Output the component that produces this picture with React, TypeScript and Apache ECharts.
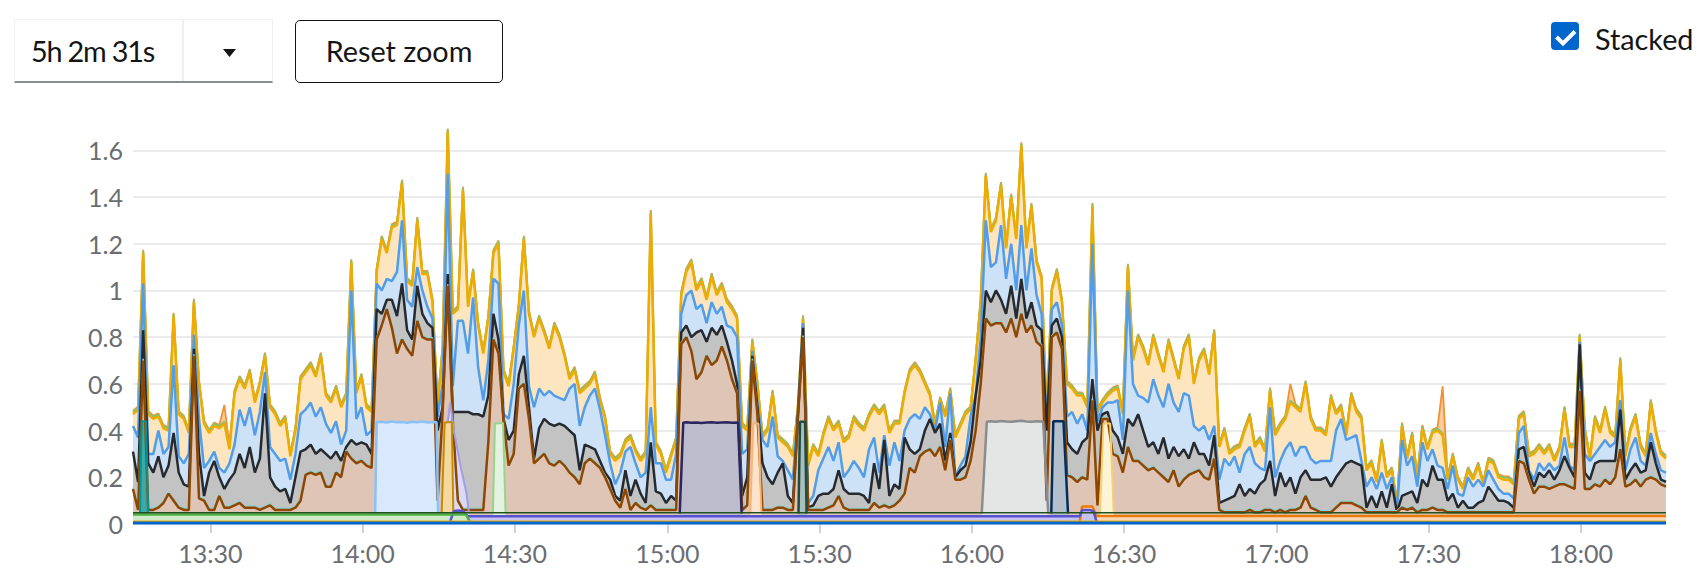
import React, { useEffect, useRef } from 'react';
import * as echarts from 'echarts';

// ---------- data (values in hundredths of a core) ----------
// samples are one minute apart, starting at 13:14:45
const START_MINUTE_OF_DAY = 13 * 60 + 14.75;
const LAST_INDEX = 302;

const tickLabels = ['13:30', '14:00', '14:30', '15:00', '15:30', '16:00', '16:30', '17:00', '17:30', '18:00'];
const rangeLabel = '5h 2m 31s';

// stacked level of the yellow layer (top envelope)
const yellowTop = [
  47, 49, 116, 47, 45, 46, 41, 40, 89, 47,
  45, 39, 95, 60, 43, 39, 42, 41, 43, 32,
  56, 62, 58, 65, 52, 60, 72, 50, 47, 42,
  45, 29, 40, 62, 65, 68, 63, 72, 55, 52,
  58, 50, 55, 112, 56, 63, 50, 48, 108, 122,
  116, 127, 128, 146, 104, 102, 130, 107, 107, 95,
  50, 75, 168, 90, 92, 143, 93, 108, 85, 73,
  88, 116, 120, 65, 59, 75, 93, 122, 90, 80,
  88, 82, 75, 85, 80, 72, 62, 66, 56, 58,
  60, 64, 53, 45, 30, 27, 29, 35, 37, 31,
  27, 30, 133, 34, 30, 22, 29, 36, 98, 108,
  112, 100, 104, 96, 106, 98, 102, 95, 92, 88,
  42, 40, 78, 60, 37, 40, 56, 37, 35, 33,
  29, 50, 88, 25, 33, 29, 38, 45, 40, 43,
  35, 37, 45, 42, 40, 46, 50, 47, 50, 39,
  43, 43, 56, 65, 68, 65, 60, 55, 42, 53,
  46, 57, 37, 42, 47, 49, 70, 95, 149, 125,
  130, 145, 118, 140, 122, 162, 118, 136, 112, 105,
  45, 100, 108, 95, 60, 58, 55, 55, 50, 136,
  48, 52, 55, 57, 58, 47, 110, 70, 80, 75,
  68, 80, 72, 65, 78, 70, 62, 75, 80, 60,
  70, 74, 64, 82, 33, 40, 30, 32, 33, 40,
  46, 33, 36, 31, 57, 38, 42, 45, 52, 50,
  48, 60, 45, 40, 40, 38, 54, 47, 50, 38,
  55, 48, 45, 23, 26, 18, 35, 20, 23, 8,
  42, 28, 38, 19, 41, 32, 39, 40, 38, 19,
  29, 19, 15, 23, 19, 25, 17, 27, 26, 20,
  19, 19, 17, 45, 47, 29, 30, 33, 30, 33,
  27, 32, 49, 33, 33, 80, 40, 28, 45, 39,
  49, 39, 37, 70, 29, 40, 46, 33, 29, 52,
  39, 30, 28,
];

// stacked level of the blue layer
const blueTop = [
  42, 37, 103, 30, 30, 40, 30, 33, 68, 29,
  26, 30, 81, 45, 24, 27, 31, 24, 22, 26,
  34, 49, 42, 50, 38, 48, 65, 33, 30, 27,
  28, 19, 30, 47, 49, 52, 46, 50, 43, 39,
  44, 34, 40, 100, 45, 50, 38, 40, 103, 100,
  105, 104, 108, 130, 96, 93, 110, 100, 93, 88,
  46, 60, 150, 59, 87, 87, 73, 97, 67, 53,
  70, 105, 103, 47, 45, 60, 85, 100, 59, 50,
  58, 55, 57, 55, 54, 53, 58, 60, 42, 50,
  55, 58, 49, 38, 26, 17, 22, 31, 33, 26,
  20, 22, 50, 26, 26, 19, 19, 30, 90, 98,
  100, 92, 94, 86, 95, 90, 93, 85, 84, 80,
  30, 32, 74, 52, 36, 33, 46, 29, 27, 23,
  19, 48, 86, 9, 12, 23, 28, 33, 27, 35,
  20, 23, 27, 24, 20, 32, 37, 22, 38, 25,
  35, 27, 40, 45, 47, 45, 50, 47, 40, 52,
  33, 56, 20, 25, 29, 46, 55, 80, 130, 110,
  112, 128, 105, 120, 100, 128, 100, 118, 98, 90,
  42, 92, 95, 85, 46, 48, 43, 47, 40, 120,
  44, 50, 52, 52, 53, 36, 100, 60, 55, 54,
  52, 62, 55, 50, 60, 52, 48, 56, 55, 42,
  40, 42, 36, 42, 19, 28, 25, 29, 22, 30,
  33, 26, 24, 23, 50, 20, 27, 32, 35, 29,
  33, 33, 28, 26, 27, 27, 27, 40, 45, 36,
  37, 38, 27, 16, 20, 15, 22, 15, 20, 6,
  36, 25, 29, 16, 35, 27, 32, 25, 24, 15,
  25, 13, 12, 20, 16, 19, 16, 23, 19, 15,
  13, 13, 11, 39, 42, 23, 19, 26, 23, 26,
  23, 25, 37, 25, 23, 78, 30, 27, 30, 33,
  36, 33, 35, 53, 23, 32, 37, 27, 25, 39,
  30, 23, 22,
];

// stacked level of the gray layer (dark line)
const grayTop = [
  31, 18, 83, 26, 22, 29, 20, 25, 39, 22,
  17, 16, 75, 30, 12, 22, 27, 20, 15, 19,
  22, 30, 24, 33, 22, 28, 56, 20, 16, 14,
  15, 9, 20, 31, 32, 34, 30, 32, 30, 28,
  31, 27, 33, 36, 34, 35, 34, 30, 92, 90,
  96, 96, 89, 103, 83, 79, 102, 90, 86, 84,
  40, 50, 107, 48, 48, 48, 48, 47, 47, 46,
  55, 90, 79, 45, 36, 40, 64, 72, 50, 28,
  41, 45, 43, 42, 43, 42, 40, 38, 23, 34,
  33, 32, 27, 22, 19, 12, 10, 23, 12, 19,
  13, 9, 35, 14, 13, 9, 12, 10, 82, 85,
  80, 82, 83, 78, 84, 81, 85, 78, 70, 60,
  12, 20, 72, 50, 26, 20, 17, 22, 26, 12,
  9, 47, 84, 7, 8, 12, 13, 13, 15, 23,
  15, 13, 13, 13, 12, 9, 26, 15, 36, 12,
  17, 15, 37, 32, 30, 32, 40, 45, 39, 43,
  27, 39, 20, 23, 25, 35, 55, 70, 100, 95,
  100, 96, 90, 102, 88, 105, 88, 95, 85, 83,
  40, 85, 88, 80, 35, 32, 30, 35, 37, 62,
  40, 47, 48, 40, 37, 30, 45, 42, 47, 40,
  33, 35, 30, 37, 28, 33, 29, 32, 28, 35,
  30, 30, 25, 38, 9, 10, 11, 12, 17, 12,
  15, 13, 17, 19, 27, 12, 22, 16, 20, 13,
  20, 23, 19, 19, 19, 20, 16, 20, 23, 26,
  27, 26, 25, 7, 12, 7, 14, 7, 17, 5,
  12, 13, 14, 9, 19, 16, 25, 19, 19, 10,
  13, 7, 10, 7, 7, 9, 10, 16, 13, 10,
  10, 9, 7, 32, 33, 22, 16, 22, 20, 23,
  19, 23, 29, 24, 20, 77, 22, 19, 26, 27,
  27, 27, 27, 49, 19, 23, 26, 22, 23, 35,
  26, 19, 18,
];

// stacked level of the brown layer
const brownTop = [
  15, 6, 70, 6, 6, 7, 9, 13, 10, 7,
  6, 6, 72, 11, 10, 6, 6, 12, 7, 7,
  8, 9, 7, 7, 7, 6, 7, 8, 6, 6,
  6, 6, 7, 10, 21, 22, 21, 22, 16, 16,
  22, 20, 31, 28, 26, 27, 25, 24, 79, 85,
  92, 84, 73, 79, 75, 72, 87, 80, 79, 79,
  10, 48, 102, 44, 10, 6, 6, 6, 6, 6,
  35, 79, 73, 44, 25, 30, 58, 60, 45, 26,
  28, 30, 26, 25, 27, 25, 22, 20, 17, 26,
  28, 26, 24, 20, 15, 10, 7, 15, 6, 9,
  7, 6, 8, 6, 6, 6, 6, 6, 77, 80,
  74, 62, 65, 72, 68, 70, 76, 70, 62, 56,
  6, 8, 70, 47, 6, 6, 6, 7, 7, 6,
  6, 46, 80, 6, 6, 6, 6, 7, 8, 12,
  7, 6, 6, 6, 6, 6, 9, 7, 8, 7,
  8, 10, 13, 24, 22, 29, 31, 32, 29, 33,
  23, 36, 19, 19, 20, 27, 40, 60, 88, 85,
  86, 86, 82, 88, 80, 90, 82, 85, 78, 76,
  10, 80, 82, 75, 21, 20, 18, 20, 19, 53,
  8, 45, 45, 30, 29, 22, 33, 27, 27, 25,
  23, 24, 22, 20, 18, 23, 16, 19, 21, 22,
  23, 20, 19, 28, 6, 5, 5, 5, 5, 5,
  6, 5, 5, 6, 6, 5, 6, 5, 6, 6,
  7, 12, 7, 6, 5, 5, 5, 7, 9, 9,
  9, 8, 7, 5, 5, 5, 5, 5, 5, 5,
  7, 6, 7, 5, 6, 6, 7, 6, 6, 5,
  5, 5, 5, 5, 5, 5, 5, 5, 5, 5,
  5, 5, 5, 27, 26, 19, 13, 16, 16, 15,
  16, 17, 17, 16, 15, 57, 15, 15, 17, 16,
  19, 17, 20, 32, 16, 17, 19, 16, 19, 20,
  19, 17, 16,
];

// thin bands on top of the yellow layer and above the brown line (hundredths)
const greenBand = 0.8;
const orangeBand = 1.4;
const cyanBand = 0.7;
// [sample index, stacked level] where the thin orange band spikes
const orangePeaks: [number, number][] = [[18, 51], [228, 60], [258, 59]];

// short-lived pods: [minutes from start, stacked level]
const jobTeal: [number, number][] = [[1.38, 4.5], [1.7, 44], [2.55, 44], [3.0, 4.5]];
const jobLightBlue: [number, number][] = [[47.7, 4.5], [48, 43.6], [49, 43.8], [50, 43.5], [51, 43.9], [52, 43.6], [53, 43.7], [54, 43.4], [55, 43.8], [56, 43.6], [57, 43.9], [58, 43.5], [59, 43.7], [59.8, 43.6], [60.1, 4.5]];
const jobLavender: [number, number][] = [[62.0, 43.5], [62.5, 52], [63.2, 40], [64.5, 25], [65.7, 13], [66.2, 4.5]];
const jobAmber: [number, number][] = [[60.8, 4.5], [61.4, 43.5], [62.8, 43.7], [63.1, 4.5]];
const jobLightGreen: [number, number][] = [[70.9, 4.5], [71.3, 43], [72.9, 43.2], [73.4, 4.5]];
const jobIndigo: [number, number][] = [[107.7, 4.5], [108.4, 43.4], [109, 43.6], [110, 43.4], [111, 43.5], [112, 43.3], [113, 43.5], [114, 43.6], [115, 43.4], [116, 43.5], [117, 43.6], [118, 43.4], [119.2, 43.5], [119.9, 4.5]];
const jobPeach: [number, number][] = [[121.6, 4.5], [122.2, 43], [123.2, 43], [123.8, 4.5]];
const jobDarkTeal: [number, number][] = [[131.1, 4.5], [131.4, 43.8], [132.4, 43.8], [132.7, 4.5]];
const jobGray: [number, number][] = [[167.2, 4.5], [168.2, 43.8], [169, 44], [170, 43.8], [171, 44.1], [172, 43.9], [173, 43.8], [174, 44], [175, 44.2], [176, 43.9], [177, 43.8], [178, 44], [179.3, 43.9], [180.3, 4.5]];
const jobNavy: [number, number][] = [[180.9, 4.5], [181.3, 44], [183.3, 44], [184.2, 4.5]];
const jobCream: [number, number][] = [[190.5, 4.5], [191.2, 43], [192.5, 43], [193.2, 4.5]];

// base layers along the bottom
const baseOrange: [number, number][] = [[186.5, 1.2], [187, 7.5], [189, 7.5], [189.8, 3.4], [302, 3.4]];
const basePurple: [number, number][] = [[62.5, 1.2], [63.2, 5.5], [64, 5.8], [65, 5.5], [66, 3.3], [186.5, 3.3], [187, 6], [188.5, 6], [189.2, 5.5], [189.8, 1.2]];
const baseGreen: [number, number][] = [[0, 4.1], [65.6, 4.1], [66.3, 1.2]];
const baseDarkGreen: [number, number][] = [[0, 4.8], [302, 4.8]];
const baseGold: [number, number][] = [[0, 1.2], [302, 1.2]];
const baseBlue: [number, number][] = [[0, 0.4], [302, 0.4]];

// ---------- helpers ----------
const full = (arr: number[], add = 0) => arr.map((v, i) => [i, (v + add) / 100]);
const pts = (arr: [number, number][]) => arr.map(([m, v]) => [m, v / 100]);
const pad = (n: number) => (n < 10 ? '0' + n : '' + n);
const tickValues = tickLabels.map((s) => {
  const [h, m] = s.split(':').map(Number);
  return h * 60 + m - START_MINUTE_OF_DAY;
});
const formatClock = (offset: number) => {
  const total = Math.round(START_MINUTE_OF_DAY + offset);
  return pad(Math.floor(total / 60)) + ':' + pad(total % 60);
};

const layer = (name: string, data: any[], line: string, fill: string | null, width = 2.5) => ({
  name,
  type: 'line',
  data,
  symbol: 'none',
  showSymbol: false,
  silent: true,
  lineStyle: { color: line, width },
  itemStyle: { color: line },
  areaStyle: fill ? { color: fill, opacity: 1 } : undefined,
  emphasis: { disabled: true },
});

const FONT = 'Lato, "Open Sans", sans-serif';
const AXIS_TEXT = '#6a6e73';

export default function App() {
  const ref = useRef<HTMLDivElement>(null);

  useEffect(() => {
    if (!ref.current) return;
    const chart = echarts.init(ref.current, undefined, { renderer: 'svg' });

    const orangeData = yellowTop.map((v, i) => {
      const p = orangePeaks.find((q) => q[0] === i);
      return [i, (p ? p[1] : v + orangeBand) / 100];
    });

    const series = [
      layer('orange', orangeData, '#ef9234', '#f9cba0', 1.8),
      layer('green', full(yellowTop, greenBand), '#7cc674', '#bde2b9', 2.2),
      layer('yellow', full(yellowTop), '#f0ab00', '#fde5bf', 2.5),
      layer('blue', full(blueTop), '#519de9', '#cde1f7', 2.5),
      layer('gray', full(grayTop), '#262a2f', '#c3c3c3', 2.5),
      layer('cyan', full(brownTop, cyanBand), '#8fd0d0', null, 1.6),
      layer('brown', full(brownTop), '#8f4700', '#dfc5b6', 2.5),
      layer('job-lavender', pts(jobLavender), '#a29ee6', '#dcd9f5', 2),
      layer('job-amber', pts(jobAmber), '#c58c00', '#f3d9a0', 2),
      layer('job-teal', pts(jobTeal), '#009596', '#3fa8a2', 2),
      layer('job-lightblue', pts(jobLightBlue), '#8bc1f7', '#d9e9fb', 2.5),
      layer('job-lightgreen', pts(jobLightGreen), '#95d58e', '#e4f2e1', 2),
      layer('job-indigo', pts(jobIndigo), '#2a265f', '#bcbccd', 2.5),
      layer('job-peach', pts(jobPeach), '#f4b678', '#fde3cc', 2),
      layer('job-darkteal', pts(jobDarkTeal), '#1f4b45', '#a9bfbb', 2.5),
      layer('job-gray', pts(jobGray), '#8a8d90', '#e4e6e6', 2.5),
      layer('job-navy', pts(jobNavy), '#002f5d', '#b4bfcc', 2.5),
      layer('job-cream', pts(jobCream), '#f6d173', '#fdf4d7', 2),
      layer('base-orange', pts(baseOrange), '#ec7a08', '#fbd7b4', 2.5),
      layer('base-purple', pts(basePurple), '#5752d1', '#c7c3f0', 2.5),
      layer('base-green', pts(baseGreen), '#4cb140', '#cfe9c9', 2.5),
      layer('base-darkgreen', pts(baseDarkGreen), '#23511e', null, 1.4),
      layer('base-gold', pts(baseGold), '#f0ab00', '#f7e2a8', 1.6),
      layer('base-blue', pts(baseBlue), '#0066cc', '#0066cc', 3),
    ];

    chart.setOption({
      animation: false,
      grid: { left: 133, right: 40, top: 127, bottom: 46, containLabel: false, outerBoundsMode: 'none' },
      xAxis: {
        type: 'value',
        min: 0,
        max: LAST_INDEX,
        axisLine: { show: false },
        axisTick: { show: true, customValues: tickValues, length: 9, lineStyle: { color: '#d2d2d2', width: 2 } },
        axisLabel: {
          customValues: tickValues,
          color: AXIS_TEXT,
          fontFamily: FONT,
          fontSize: 25,
          margin: 16,
          formatter: (v: number) => formatClock(v),
        },
        splitLine: { show: false },
      },
      yAxis: {
        type: 'value',
        min: 0,
        max: 1.7,
        interval: 0.2,
        axisLine: { show: false },
        axisTick: { show: false },
        axisLabel: { color: AXIS_TEXT, fontFamily: FONT, fontSize: 25, margin: 10, showMaxLabel: false },
        splitLine: { show: true, showMaxLine: false, lineStyle: { color: '#ebebeb', width: 2 } },
      },
      series,
    });

    return () => chart.dispose();
  }, []);

  const text: React.CSSProperties = {
    position: 'absolute',
    fontFamily: FONT,
    fontSize: 28.8,
    lineHeight: '28.8px',
    color: '#151515',
    whiteSpace: 'nowrap',
  };

  return (
    <div style={{ position: 'fixed', left: 0, top: 0, width: 1706, height: 570, background: '#ffffff', overflow: 'hidden' }}>
      <div ref={ref} style={{ position: 'absolute', left: 0, top: 0, width: 1706, height: 570 }} />

      {/* range selector */}
      <div
        style={{
          position: 'absolute', left: 14, top: 19, width: 259, height: 64, boxSizing: 'border-box',
          borderTop: '1.5px solid #f0f0f0', borderLeft: '1.5px solid #f0f0f0', borderRight: '1.5px solid #f0f0f0',
          borderBottom: '2.5px solid #8a8d90', background: '#fff',
        }}
      />
      <div style={{ position: 'absolute', left: 182, top: 19, width: 1.5, height: 62, background: '#f0f0f0' }} />
      <div style={{ ...text, left: 31, top: 36.5, letterSpacing: '-1.2px' }}>{rangeLabel}</div>
      <svg style={{ position: 'absolute', left: 222.5, top: 49.3 }} width={13} height={8} viewBox="0 0 13 8">
        <polygon points="0,0 13,0 6.5,8" fill="#151515" />
      </svg>

      {/* reset zoom button */}
      <div
        style={{
          position: 'absolute', left: 295, top: 19.5, width: 208, height: 63.5, boxSizing: 'border-box',
          border: '1.8px solid #151515', borderRadius: 5, background: '#fff',
        }}
      />
      <div style={{ ...text, left: 295, width: 208, textAlign: 'center', top: 37.2 }}>Reset zoom</div>

      {/* stacked checkbox */}
      <svg style={{ position: 'absolute', left: 1551, top: 22 }} width={28} height={28} viewBox="0 0 28 28">
        <rect x={0} y={0} width={28} height={28} rx={4} ry={4} fill="#0066cc" />
        <path d="M5.5 15 L12 21.5 L24 9.5" stroke="#ffffff" strokeWidth={4} fill="none" strokeLinejoin="miter" />
      </svg>
      <div style={{ ...text, left: 1595, top: 24.5 }}>Stacked</div>
    </div>
  );
}
